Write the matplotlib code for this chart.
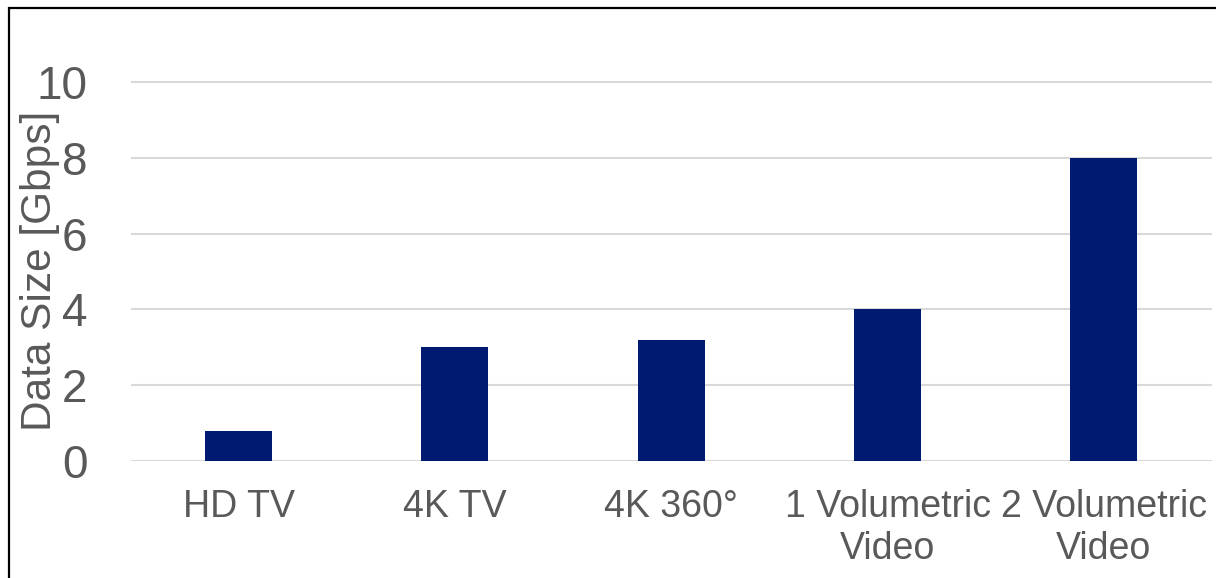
import matplotlib.pyplot as plt
from matplotlib.patches import Rectangle

plt.rcParams['font.family'] = ['Liberation Sans', 'DejaVu Sans']

categories = ["HD TV", "4K TV", "4K 360°", "1 Volumetric\nVideo", "2 Volumetric\nVideo"]
data_size = [0.8, 3.0, 3.2, 4.0, 8.0]
y_ticks = [0, 2, 4, 6, 8, 10]

text_color = "#595959"
bar_color = "#001A71"

fig = plt.figure(figsize=(12.16, 5.78), dpi=100)
ax = fig.add_axes([130.5 / 1216, (578 - 461) / 578, (1212 - 130.5) / 1216, (461 - 44) / 578])

x = range(len(categories))
ax.bar(x, data_size, width=0.31, color=bar_color, zorder=3)

ax.set_xlim(-0.5, len(categories) - 0.5)
ax.set_ylim(0, 11)
ax.set_yticks(y_ticks)
ax.set_yticklabels([str(t) for t in y_ticks], fontsize=33, color=text_color)
ax.set_xticks(list(x))
ax.set_xticklabels(categories, fontsize=27, color=text_color, linespacing=1.22)
ax.tick_params(axis='y', length=0, pad=31)
ax.tick_params(axis='x', length=0, pad=20)

ax.grid(axis='y', color="#D9D9D9", linewidth=1.5, zorder=0)
for s in ax.spines.values():
    s.set_visible(False)

fig.text(40 / 1216, 1 - 271 / 578, "Data Size [Gbps]", rotation=90, fontsize=30.5,
         color=text_color, ha='center', va='center')

# outer frame, right and bottom edges cut off in the original
fig.add_artist(Rectangle((8.5 / 1216, -0.1), 1.2, 1 - 8.5 / 578 + 0.1,
                         transform=fig.transFigure, fill=False,
                         edgecolor="black", linewidth=1.6))

fig.savefig("out.png", dpi=100)
